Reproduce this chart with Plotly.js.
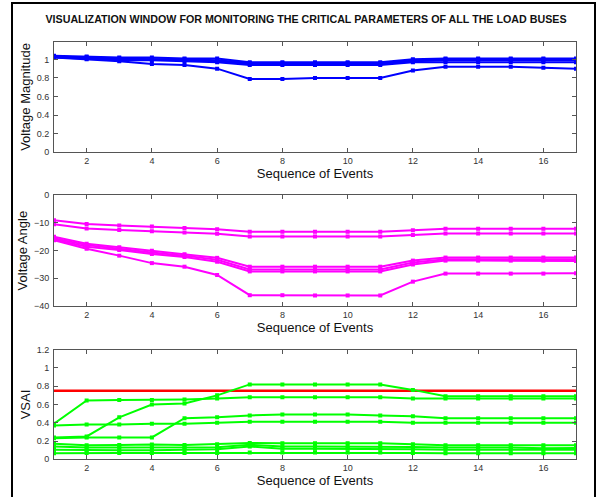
<!DOCTYPE html>
<html>
<head>
<meta charset="utf-8">
<script src="https://cdn.plot.ly/plotly-3.0.1.min.js"></script>
<style>
  html, body { margin: 0; padding: 0; background: #fff; }
  #wrap { position: relative; width: 598px; height: 497px; }
  #chart { width: 598px; height: 497px; }
  #frame { position: absolute; left: 11px; top: 2px; width: 581px; height: 520px; border: 2px solid #000; pointer-events: none; }
</style>
</head>
<body>
<div id="wrap"><div id="chart"></div><div id="frame"></div></div>
<script>
// ---- Data ----
const events = [1,2,3,4,5,6,7,8,9,10,11,12,13,14,15,16,17];
const xTicks = [2,4,6,8,10,12,14,16];

// Voltage magnitude per load bus
const vm1 = [1.04,1.03,1.02,1.02,1.01,1.01,0.97,0.97,0.97,0.97,0.97,1.00,1.01,1.01,1.01,1.01,1.01];
const vm2 = [1.03,1.02,1.01,1.00,1.00,0.99,0.96,0.96,0.96,0.96,0.96,0.99,1.00,1.00,1.00,1.00,1.00];
const vm3 = [1.03,1.02,1.00,1.00,0.99,0.98,0.95,0.95,0.95,0.95,0.95,0.98,0.99,0.99,0.99,0.99,0.99];
const vm4 = [1.02,1.01,0.99,0.99,0.98,0.97,0.94,0.94,0.94,0.94,0.94,0.97,0.97,0.97,0.97,0.97,0.97];
const vm5 = [1.02,1.00,0.98,0.95,0.94,0.90,0.79,0.79,0.80,0.80,0.80,0.88,0.92,0.92,0.92,0.91,0.90];

// Voltage angle per load bus
const va1 = [-9.0,-10.4,-10.9,-11.3,-11.8,-12.3,-13.2,-13.2,-13.2,-13.2,-13.2,-12.6,-12.1,-12.1,-12.1,-12.1,-12.1];
const va2 = [-10.5,-12.0,-12.5,-13.0,-13.4,-13.9,-14.9,-14.9,-14.9,-14.9,-14.9,-14.3,-13.8,-13.8,-13.8,-13.8,-13.8];
const va3 = [-15.0,-17.5,-18.8,-20.0,-21.3,-22.6,-25.8,-25.8,-25.8,-25.8,-25.8,-23.6,-22.5,-22.5,-22.5,-22.5,-22.5];
const va4 = [-15.5,-18.0,-19.3,-20.7,-21.8,-23.3,-26.8,-26.8,-26.8,-26.8,-26.8,-24.3,-23.1,-23.1,-23.1,-23.1,-23.1];
const va5 = [-16.0,-18.6,-19.8,-21.2,-22.3,-24.0,-27.5,-27.5,-27.5,-27.5,-27.5,-25.0,-23.6,-23.6,-23.6,-23.6,-23.7];
const va6 = [-16.2,-19.3,-21.8,-24.5,-25.8,-28.8,-36.1,-36.1,-36.2,-36.2,-36.2,-31.2,-28.3,-28.3,-28.3,-28.3,-28.2];

// VSAI per load bus
const vs1 = [0.24,0.25,0.46,0.60,0.61,0.70,0.82,0.82,0.82,0.82,0.82,0.76,0.69,0.69,0.69,0.69,0.69];
const vs2 = [0.39,0.645,0.65,0.65,0.655,0.665,0.68,0.68,0.68,0.68,0.68,0.665,0.665,0.665,0.665,0.665,0.665];
const vs3 = [0.23,0.24,0.24,0.24,0.45,0.46,0.48,0.49,0.49,0.49,0.48,0.47,0.45,0.45,0.45,0.45,0.45];
const vs4 = [0.37,0.38,0.38,0.39,0.39,0.40,0.41,0.41,0.41,0.41,0.41,0.40,0.40,0.40,0.40,0.40,0.40];
const vs5 = [0.17,0.155,0.157,0.162,0.157,0.165,0.178,0.175,0.175,0.175,0.175,0.165,0.155,0.155,0.155,0.155,0.155];
const vs6 = [0.14,0.128,0.13,0.132,0.13,0.132,0.16,0.14,0.14,0.14,0.14,0.135,0.13,0.13,0.13,0.12,0.125];
const vs7 = [0.105,0.10,0.10,0.10,0.105,0.11,0.14,0.115,0.115,0.115,0.115,0.11,0.105,0.105,0.105,0.105,0.105];
const vs8 = [0.065,0.07,0.07,0.07,0.07,0.07,0.075,0.075,0.075,0.075,0.075,0.07,0.065,0.065,0.065,0.065,0.065];

const vsaiLimit = 0.75;
const limitX = [1, 17];

const titleText = "VISUALIZATION WINDOW FOR MONITORING THE CRITICAL PARAMETERS OF ALL THE LOAD BUSES";

// ---- Traces ----
function series(y, color, xa, ya) {
  return { x: events, y: y, xaxis: xa, yaxis: ya, type: 'scatter', mode: 'lines+markers',
    line: { color: color, width: 2 }, marker: { symbol: 'square', size: 4, color: color },
    showlegend: false, hoverinfo: 'skip' };
}
const traces = [];
[vm1, vm2, vm3, vm4, vm5].forEach(s => traces.push(series(s, '#0000FF', 'x', 'y')));
[va1, va2, va3, va4, va5, va6].forEach(s => traces.push(series(s, '#FF00FF', 'x2', 'y2')));
traces.push({ x: limitX, y: [vsaiLimit, vsaiLimit], xaxis: 'x3', yaxis: 'y3', type: 'scatter', mode: 'lines',
  line: { color: '#FF0000', width: 2.5 }, showlegend: false, hoverinfo: 'skip' });
[vs1, vs2, vs3, vs4, vs5, vs6, vs7, vs8].forEach(s => traces.push(series(s, '#00FF00', 'x3', 'y3')));

// ---- Layout ----
const H = 497;
const dom = (top, bot) => [1 - bot / H, 1 - top / H];
const axFont = { family: 'Arial, Liberation Sans, sans-serif', size: 9, color: '#333' };
const titleFont = { family: 'Arial, Liberation Sans, sans-serif', size: 13, color: '#111' };

function xAxis(anchor) {
  return { anchor: anchor, domain: [0, 1], range: [1, 17], tickvals: xTicks, ticks: 'inside', ticklen: 4,
    tickcolor: '#555', showline: true, linecolor: '#555', linewidth: 1, mirror: 'ticks', showgrid: false,
    zeroline: false, tickfont: axFont, ticklabelstandoff: 0,
    title: { text: 'Sequence of Events', font: titleFont, standoff: 0 } };
}
function yAxis(anchor, domain, range, tickvals, title) {
  return { anchor: anchor, domain: domain, range: range, tickvals: tickvals, ticks: 'inside', ticklen: 4,
    tickcolor: '#555', showline: true, linecolor: '#555', linewidth: 1, mirror: 'ticks', showgrid: false,
    zeroline: false, tickfont: axFont, ticklabelstandoff: 2,
    title: { text: title, font: titleFont, standoff: 3 } };
}

const layout = {
  width: 598, height: 497,
  margin: { l: 54, r: 22, t: 0, b: 0 },
  paper_bgcolor: '#fff', plot_bgcolor: '#fff',
  showlegend: false,
  title: { text: '<b>' + titleText + '</b>', font: { family: 'Arial, Liberation Sans, sans-serif', size: 10.7, color: '#111' },
    xref: 'container', x: 306 / 598, xanchor: 'center', yref: 'container', y: 1 - 19 / H, yanchor: 'middle' },
  xaxis: xAxis('y'),
  yaxis: yAxis('x', dom(41.7, 152.3), [0, 1.19], [0, 0.2, 0.4, 0.6, 0.8, 1], 'Voltage Magnitude'),
  xaxis2: xAxis('y2'),
  yaxis2: yAxis('x2', dom(195.3, 306), [-40, 0], [-40, -30, -20, -10, 0], 'Voltage Angle'),
  xaxis3: xAxis('y3'),
  yaxis3: yAxis('x3', dom(349.7, 459.3), [0, 1.2], [0, 0.2, 0.4, 0.6, 0.8, 1, 1.2], 'VSAI')
};

Plotly.newPlot('chart', traces, layout, { staticPlot: true, displayModeBar: false });
</script>
</body>
</html>
